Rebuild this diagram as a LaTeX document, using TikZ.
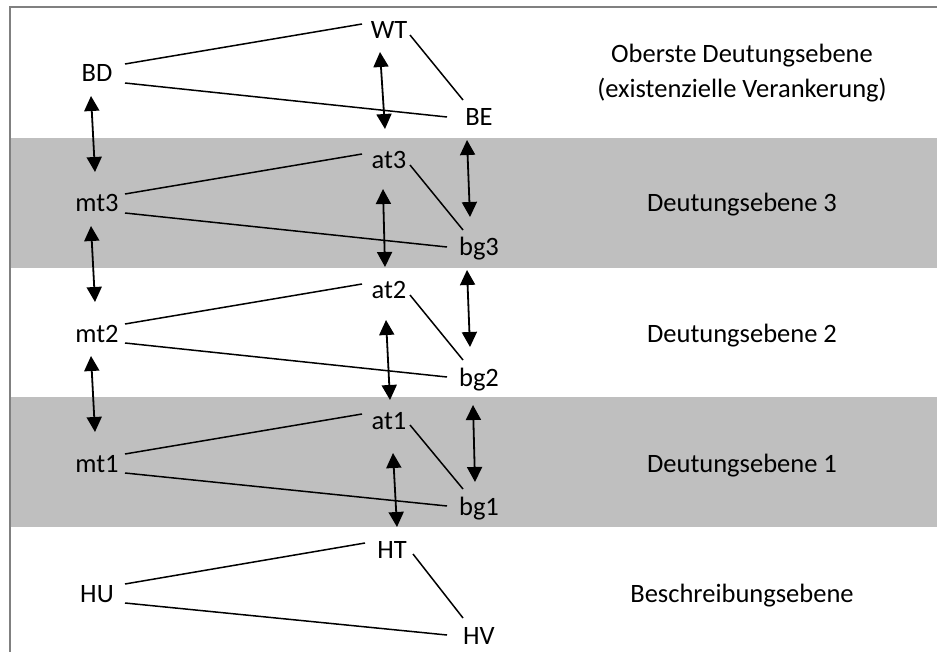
\documentclass[tikz,border=0pt]{standalone}
\usepackage{fontspec}
\setmainfont{Carlito}
\usetikzlibrary{arrows.meta}
\definecolor{bandgray}{RGB}{191,191,191}
\definecolor{framegray}{RGB}{128,128,128}
\begin{document}
\begin{tikzpicture}[x=1pt,y=-1pt,
  lbl/.style={inner sep=0pt,anchor=base,font=\fontsize{26.5}{31}\selectfont},
  link/.style={line width=1.5pt,black},
  dbl/.style={line width=1.8pt,black,
    {Triangle[length=15pt,width=15pt]}-{Triangle[length=15pt,width=15pt]}},
  band/.style={fill=bandgray,draw=none},
  frame/.style={draw=framegray,line width=2pt}]
\useasboundingbox (0,0) rectangle (937,652);
% shaded interpretation levels
\fill[band] (11,138) rectangle (937,268);
\fill[band] (11,397) rectangle (937,527);
% outer frame (top and left edges)
\draw[frame] (10,652) -- (10,7) -- (937,7);

% top level
\node[lbl] (BD) at (97,82) {BD};
\node[lbl] (WT) at (389,39) {WT};
\node[lbl] (BE) at (479,126) {BE};
% level 3
\node[lbl] (mt3) at (97,212) {mt3};
\node[lbl] (at3) at (389,169) {at3};
\node[lbl] (bg3) at (479,256) {bg3};
% level 2
\node[lbl] (mt2) at (97,342) {mt2};
\node[lbl] (at2) at (389,299) {at2};
\node[lbl] (bg2) at (479,386) {bg2};
% level 1
\node[lbl] (mt1) at (97,472) {mt1};
\node[lbl] (at1) at (389,429) {at1};
\node[lbl] (bg1) at (479,515) {bg1};
% description level
\node[lbl] (HU) at (97,602) {HU};
\node[lbl] (HT) at (392,558) {HT};
\node[lbl] (HV) at (479,644) {HV};

% level captions
\node[lbl] (cap0a) at (742,63) {Oberste Deutungsebene};
\node[lbl] (cap0b) at (742,98) {(existenzielle Verankerung)};
\node[lbl] (cap3) at (742,212) {Deutungsebene 3};
\node[lbl] (cap2) at (742,342) {Deutungsebene 2};
\node[lbl] (cap1) at (742,472) {Deutungsebene 1};
\node[lbl] (cap4) at (742,602) {Beschreibungsebene};

% triangles within each level
\foreach \l/\t/\b in {BD/WT/BE, mt3/at3/bg3, mt2/at2/bg2, mt1/at1/bg1, HU/HT/HV}{
  \draw[link] ([shift={(28,-18)}]\l.base) -- ([shift={(-27,-15)}]\t.base);
  \draw[link] ([shift={(28,1)}]\l.base) -- ([shift={(-32,-9)}]\b.base);
  \draw[link] ([shift={(21,-4)}]\t.base) -- ([shift={(-16,-26)}]\b.base);
}

% vertical links between levels, left column
\foreach \u/\d in {BD/mt3, mt3/mt2, mt2/mt1}{
  \draw[dbl] ([shift={(-6,14)}]\u.base) -- ([shift={(-2,-40)}]\d.base);
}
% middle column
\draw[dbl] ([shift={(-9,13)}]WT.base) -- ([shift={(-4,-40)}]at3.base);
\draw[dbl] ([shift={(-6,20)}]at3.base) -- ([shift={(-4,-32)}]at2.base);
\draw[dbl] ([shift={(-3,21)}]at2.base) -- ([shift={(1,-29)}]at1.base);
\draw[dbl] ([shift={(4,24)}]at1.base) -- ([shift={(5,-31)}]HT.base);
% right column
\draw[dbl] ([shift={(-12,14)}]BE.base) -- ([shift={(-9,-39)}]bg3.base);
\draw[dbl] ([shift={(-12,14)}]bg3.base) -- ([shift={(-9,-39)}]bg2.base);
\draw[dbl] ([shift={(-6,19)}]bg2.base) -- ([shift={(-4,-33)}]bg1.base);
\end{tikzpicture}
\end{document}
